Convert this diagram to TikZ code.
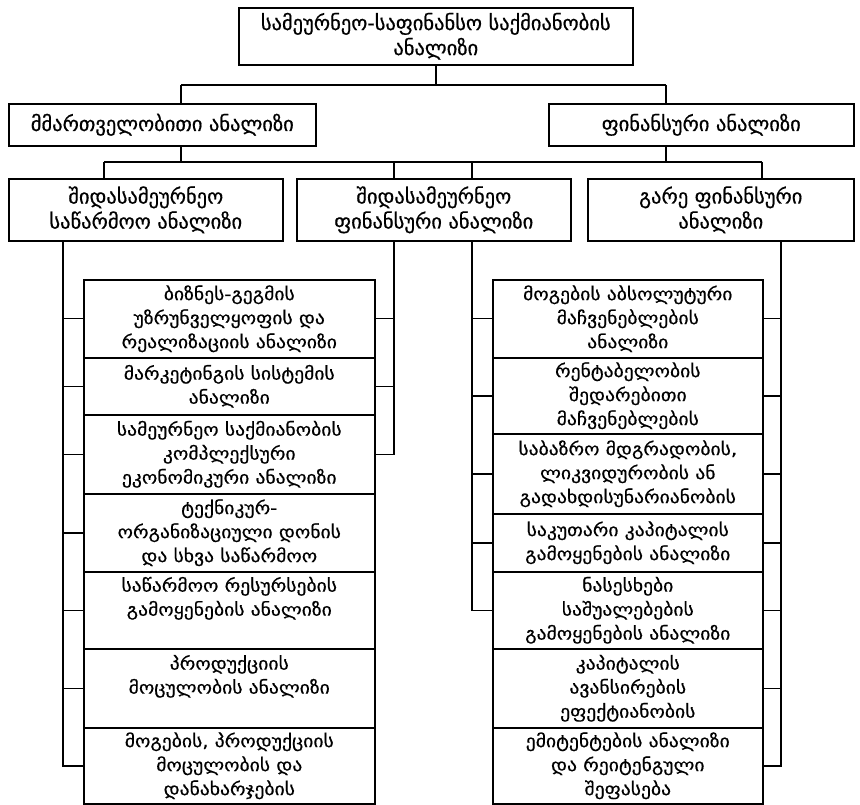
\documentclass[tikz,border=0pt]{standalone}
\usepackage{fontspec}
\setmainfont{DejaVu Sans}[FakeBold=0.6]
\newfontfamily\listfont{DejaVu Sans}[FakeStretch=1.12, FakeBold=0.6]

\begin{document}
\begin{tikzpicture}[x=1pt, y=-1pt, line width=1.4pt,
    main box/.style={draw, line width=1.6pt, align=center, anchor=north west,
        inner sep=2pt, font=\fontsize{20.5}{25}\selectfont},
    list box/.style={main box, font=\listfont\fontsize{17.5}{24}\selectfont},
    high text/.style={text depth=28pt}]

  \useasboundingbox (0,0) rectangle (860,805);

  % top and second level
  \node[main box, minimum width=394, minimum height=57] (anal) at (238,7)
    {სამეურნეო-საფინანსო საქმიანობის\\ანალიზი};
  \node[main box, minimum width=307, minimum height=42] (mart) at (8,103)
    {მმართველობითი ანალიზი};
  \node[main box, minimum width=305, minimum height=42] (fin) at (548,103)
    {ფინანსური ანალიზი};

  % third level
  \node[main box, minimum width=274, minimum height=62] (shida) at (8,178)
    {შიდასამეურნეო\\საწარმოო ანალიზი};
  \node[main box, minimum width=274, minimum height=62] (shidafin) at (296,178)
    {შიდასამეურნეო\\ფინანსური ანალიზი};
  \node[main box, minimum width=266, minimum height=62] (gare) at (587,178)
    {გარე ფინანსური\\ანალიზი};

  % left list
  \node[list box, minimum width=291, minimum height=78] (w1) at (83,279)
    {ბიზნეს-გეგმის\\უზრუნველყოფის და\\რეალიზაციის ანალიზი};
  \node[list box, minimum width=291, minimum height=57] (w2) at (83,357)
    {მარკეტინგის სისტემის\\ანალიზი};
  \node[list box, minimum width=291, minimum height=79] (w3) at (83,414)
    {სამეურნეო საქმიანობის\\კომპლექსური\\ეკონომიკური ანალიზი};
  \node[list box, minimum width=291, minimum height=78] (w4) at (83,493)
    {ტექნიკურ-\\ორგანიზაციული დონის\\და სხვა საწარმოო};
  \node[list box, high text, minimum width=291, minimum height=77] (w5) at (83,571)
    {საწარმოო რესურსების\\გამოყენების ანალიზი};
  \node[list box, high text, minimum width=291, minimum height=79] (w6) at (83,648)
    {პროდუქციის\\მოცულობის ანალიზი};
  \node[list box, minimum width=291, minimum height=76] (w7) at (83,727)
    {მოგების, პროდუქციის\\მოცულობის და\\დანახარჯების};

  % right list
  \node[list box, minimum width=270, minimum height=78] (f1) at (492,279)
    {მოგების აბსოლუტური\\მაჩვენებლების\\ანალიზი};
  \node[list box, minimum width=270, minimum height=76] (f2) at (492,357)
    {რენტაბელობის\\შედარებითი\\მაჩვენებლების};
  \node[list box, minimum width=270, minimum height=80] (f3) at (492,433)
    {საბაზრო მდგრადობის,\\ლიკვიდურობის ან\\გადახდისუნარიანობის};
  \node[list box, minimum width=270, minimum height=58] (f4) at (492,513)
    {საკუთარი კაპიტალის\\გამოყენების ანალიზი};
  \node[list box, minimum width=270, minimum height=77] (f5) at (492,571)
    {ნასესხები\\საშუალებების\\გამოყენების ანალიზი};
  \node[list box, minimum width=270, minimum height=79] (f6) at (492,648)
    {კაპიტალის\\ავანსირების\\ეფექტიანობის};
  \node[list box, minimum width=270, minimum height=76] (f7) at (492,727)
    {ემიტენტების ანალიზი\\და რეიტენგული\\შეფასება};

  % junctions
  \coordinate (j1) at (181,85);
  \coordinate (j2) at (666,85);
  \coordinate (k1) at (104,162);
  \coordinate (k2) at (394,162);
  \coordinate (k3) at (472,162);
  \coordinate (k4) at (762,162);
  \coordinate (v1) at (63,0);
  \coordinate (v4) at (781,0);

  \draw (anal.south) -- (anal.south |- j1);
  \draw (j1) -- (j2);
  \draw (j1) -- (j1 |- mart.north);
  \draw (j2) -- (j2 |- fin.north);
  \draw (j1 |- mart.south) -- (j1 |- k1);
  \draw (j2 |- fin.south) -- (j2 |- k1);
  \draw (k1) -- (k4);
  \draw (k1) -- (k1 |- shida.north);
  \draw (k2) -- (k2 |- shidafin.north);
  \draw (k3) -- (k3 |- shidafin.north);
  \draw (k4) -- (k4 |- gare.north);

  % feeders into the lists
  \draw (shida.south -| v1) |- (w7.west);
  \path (w1.west -| v1) edge (w1.west)
        (w2.west -| v1) edge (w2.west)
        (w3.west -| v1) edge (w3.west)
        (w4.west -| v1) edge (w4.west)
        (w5.west -| v1) edge (w5.west)
        (w6.west -| v1) edge (w6.west);

  \draw (shidafin.south -| k2) |- (w3.east);
  \path (w1.east -| k2) edge (w1.east)
        (w2.east -| k2) edge (w2.east);

  \draw (shidafin.south -| k3) |- (f5.west);
  \path (f1.west -| k3) edge (f1.west)
        (f2.west -| k3) edge (f2.west)
        (f3.west -| k3) edge (f3.west)
        (f4.west -| k3) edge (f4.west);

  \draw (gare.south -| v4) |- (f7.east);
  \path (f1.east -| v4) edge (f1.east)
        (f2.east -| v4) edge (f2.east)
        (f3.east -| v4) edge (f3.east)
        (f4.east -| v4) edge (f4.east)
        (f5.east -| v4) edge (f5.east)
        (f6.east -| v4) edge (f6.east);
\end{tikzpicture}
\end{document}
